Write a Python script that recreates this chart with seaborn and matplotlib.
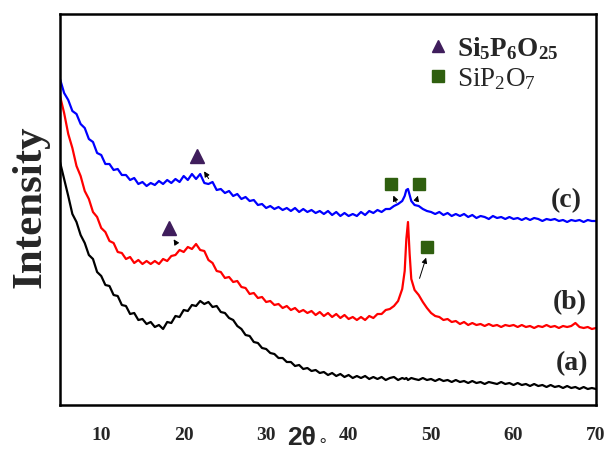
import numpy as np
import pandas as pd
import seaborn as sns
import matplotlib
matplotlib.use("Agg")
import matplotlib.pyplot as plt
from matplotlib.lines import Line2D

# 2-theta grid (degrees), finer steps through the ~47 deg reflection
two_theta = np.r_[np.arange(5, 46.6, 0.5), [46.8, 47.0, 47.2, 47.4, 47.6], np.arange(48, 70.01, 0.5)]

# (a) black, arbitrary intensity units
a_low = [243, 226, 209, 191, 183, 170, 162, 150, 146, 133, 129, 120, 119, 110, 109, 100, 99, 91, 92, 85,
         86, 81, 83, 78, 80, 76, 83, 82, 89, 88, 95, 94, 100, 99, 104, 101, 103, 98, 99, 93,
         92, 87, 85, 79, 76, 70, 69, 63, 62, 57, 56, 52, 51, 47, 47, 43, 43, 39, 40, 36,
         37, 34, 35, 32, 33, 30, 32, 29, 31, 28, 30, 27, 29, 27, 29, 26, 28, 26, 28, 25,
         27, 28, 25, 27]
a_peak = [26, 27, 25, 26, 27]
a_high = [26, 25, 27, 25, 26, 24, 26, 24, 25, 23, 25, 23, 24, 22, 24, 22, 23, 21, 23, 22,
          21, 23, 21, 22, 20, 22, 20, 21, 19, 21, 19, 20, 18, 20, 18, 19, 17, 19, 17, 18,
          16, 18, 16, 17, 16]

# (b) red
b_low = [309, 292, 271, 257, 239, 229, 214, 206, 193, 188, 177, 173, 164, 162, 153, 152, 146, 148, 142, 145,
         141, 144, 141, 144, 141, 146, 144, 149, 150, 155, 153, 158, 156, 161, 155, 154, 145, 142, 134, 133,
         127, 128, 123, 124, 118, 117, 111, 112, 107, 108, 103, 104, 100, 101, 97, 99, 95, 97, 93, 95,
         92, 94, 90, 93, 89, 92, 88, 91, 87, 90, 86, 88, 85, 88, 85, 89, 87, 91, 91, 95,
         96, 99, 104, 116]
b_peak = [134, 166, 183, 151, 126]
b_high = [115, 110, 103, 97, 92, 89, 88, 85, 86, 83, 84, 81, 83, 80, 82, 80, 81, 79, 81, 79,
          80, 78, 80, 79, 80, 78, 80, 78, 79, 77, 79, 78, 80, 78, 79, 77, 79, 78, 79, 82,
          78, 77, 78, 76, 77]

# (c) blue
c_low = [326, 312, 305, 294, 291, 281, 277, 266, 263, 252, 250, 241, 241, 235, 236, 230, 230, 225, 227, 221,
         223, 219, 222, 220, 224, 221, 225, 222, 226, 223, 229, 225, 231, 226, 231, 222, 221, 223, 215, 216,
         212, 214, 209, 211, 206, 208, 204, 205, 200, 201, 197, 199, 196, 198, 195, 197, 194, 197, 193, 196,
         193, 195, 192, 194, 191, 194, 190, 193, 189, 192, 189, 191, 189, 193, 190, 194, 192, 195, 193, 196,
         196, 199, 201, 204]
c_peak = [209, 215, 216, 210, 204]
c_high = [200, 199, 196, 194, 193, 191, 193, 190, 192, 189, 191, 189, 191, 188, 190, 187, 189, 188, 186, 189,
          187, 188, 186, 188, 186, 187, 185, 187, 185, 187, 186, 184, 186, 185, 186, 184, 185, 183, 185, 184,
          185, 183, 185, 184, 184]

# phase markers and arrow (tail on curve -> head at marker)
tri_x = [21.6, 18.2]
tri_y = [249, 177]
tri_arrows = [((23.2, 224), (22.3, 236)), ((19.3, 159), (18.6, 168))]
sq_x = [45.1, 48.5, 49.5]
sq_y = [221, 221, 158]
sq_arrows = [((45.9, 200), (45.3, 212)), ((48.1, 201), (48.5, 212)), ((48.5, 124), (49.5, 150))]

curve_labels = ["(a)", "(b)", "(c)"]
label_x = [69.0, 68.9, 68.3]
label_y = [42, 103, 205]

purple = "#3f1d5c"
green = "#2f5f0f"

df = pd.DataFrame({
    "two_theta": np.tile(two_theta, 3),
    "intensity": np.r_[a_low + a_peak + a_high, b_low + b_peak + b_high, c_low + c_peak + c_high],
    "sample": np.repeat(curve_labels, len(two_theta)),
})

sns.set_style("white")
plt.rcParams["font.family"] = ["Liberation Serif", "DejaVu Serif"]
plt.rcParams["mathtext.fontset"] = "custom"
plt.rcParams["mathtext.rm"] = "Liberation Serif"
plt.rcParams["mathtext.bf"] = "Liberation Serif:bold"

fig = plt.figure(figsize=(6.08, 4.52), dpi=100)
ax = fig.add_axes([60 / 608, 46 / 452, 536 / 608, 391 / 452])

sns.lineplot(data=df, x="two_theta", y="intensity", hue="sample",
             palette={"(a)": "black", "(b)": "red", "(c)": "blue"},
             estimator=None, sort=False, linewidth=1.6, legend=False, ax=ax)

ax.plot(tri_x, tri_y, "^", color=purple, ms=10, ls="")
ax.plot(sq_x, sq_y, "s", color=green, ms=8.5, ls="")
for tail, head in tri_arrows + sq_arrows:
    ax.annotate("", xy=head, xytext=tail,
                arrowprops=dict(arrowstyle="-|>", color="black", lw=0.7, mutation_scale=8))

for lab, lx, ly in zip(curve_labels, label_x, label_y):
    ax.text(lx, ly, lab, ha="right", va="center", fontsize=20, fontweight="bold")

handles = [Line2D([], [], marker="^", ls="", color=purple, ms=9),
           Line2D([], [], marker="s", ls="", color=green, ms=8)]
labels = [r"$\mathbf{Si_5P_6O_{25}}$", r"$\mathrm{SiP_2O_7}$"]
ax.legend(handles, labels, loc="upper left", bbox_to_anchor=(0.665, 0.975), frameon=False,
          handlelength=0.8, handletextpad=0.3, labelspacing=0.15, borderaxespad=0,
          prop={"size": 19.5})

ax.set_xlim(5, 70)
ax.set_ylim(0, 391)
ax.set_xticks([10, 20, 30, 40, 50, 60, 70])
ax.set_yticks([])
ax.tick_params(axis="x", length=0, pad=15, labelsize=14)
for t in ax.get_xticklabels():
    t.set_fontweight("bold")

ax.set_xlabel("2θ", fontfamily="Liberation Sans", fontweight="bold", fontsize=19)
ax.xaxis.set_label_coords(0.451, -0.052)
ax.text(0.489, -0.09, "\u2218", transform=ax.transAxes, ha="center", va="center",
        fontsize=12, fontfamily="DejaVu Sans")
ax.set_ylabel("Intensity", fontsize=31, fontweight="bold")
ax.yaxis.set_label_coords(-0.02, 0.51)

for s in ax.spines.values():
    s.set_color("black")
    s.set_linewidth(1.8)

fig.savefig("out.png", dpi=100)
